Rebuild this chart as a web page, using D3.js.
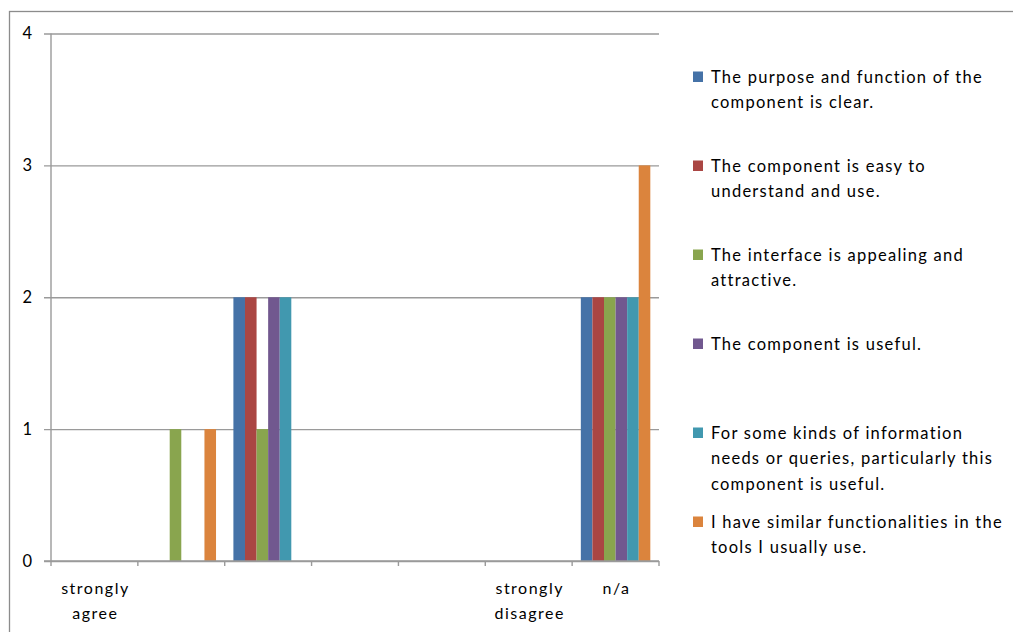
<!DOCTYPE html>
<html>
<head>
<meta charset="utf-8">
<script src="https://cdn.jsdelivr.net/npm/d3@7"></script>
<style>
  html, body { margin: 0; padding: 0; background: #fff; }
  svg { display: block; font-family: Lato, "Open Sans", sans-serif; }
</style>
</head>
<body>
<svg id="chart" width="1013" height="632"></svg>
<script>
// Response categories (x axis); "\n" marks a line break in the tick label
const categories = ["strongly\nagree", "", "", "", "", "strongly\ndisagree", "n/a"];

// Legend statements, one per series; "\n" marks a line break
const seriesNames = [
  "The purpose and function of the\ncomponent is clear.",
  "The component is easy to\nunderstand and use.",
  "The interface is appealing and\nattractive.",
  "The component is useful.",
  "For some kinds of information\nneeds or queries, particularly this\ncomponent is useful.",
  "I have similar functionalities in the\ntools I usually use."
];

// Counts per category for each statement
const purposeClear     = [0, 0, 2, 0, 0, 0, 2];
const easyToUse        = [0, 0, 2, 0, 0, 0, 2];
const appealing        = [0, 1, 1, 0, 0, 0, 2];
const useful           = [0, 0, 2, 0, 0, 0, 2];
const usefulForQueries = [0, 0, 2, 0, 0, 0, 2];
const similarTools     = [0, 1, 0, 0, 0, 0, 3];

const yTicks = [0, 1, 2, 3, 4];

const seriesValues = [purposeClear, easyToUse, appealing, useful, usefulForQueries, similarTools];
const colors = ["#4572A7", "#AA4643", "#89A54E", "#71588F", "#4198AF", "#DB843D"];

const svg = d3.select("#chart");

// outer chart frame
svg.append("rect")
  .attr("x", 9.5).attr("y", 11.5)
  .attr("width", 1010).attr("height", 630)
  .attr("fill", "none").attr("stroke", "#8c8c8c").attr("stroke-width", 1.3);

const plot = { left: 51, right: 659, top: 33.5, bottom: 561 };

const x0 = d3.scaleBand()
  .domain(d3.range(categories.length))
  .range([plot.left, plot.right])
  .padding(0);

const x1 = d3.scaleBand()
  .domain(d3.range(seriesValues.length))
  .range([0, x0.bandwidth()])
  .paddingInner(0)
  .paddingOuter(0.75);

const y = d3.scaleLinear()
  .domain([0, 4])
  .range([plot.bottom, plot.top]);

// horizontal gridlines with left tick marks
const yAxis = d3.axisLeft(y)
  .tickValues(yTicks)
  .tickSize(-(plot.right - plot.left))
  .tickSizeOuter(0)
  .tickPadding(0)
  .tickFormat(d3.format("d"));

const gy = svg.append("g")
  .attr("transform", `translate(${plot.left},0)`)
  .call(yAxis);
gy.select(".domain").remove();
gy.selectAll(".tick line")
  .attr("x1", -7)
  .attr("stroke", "#9a9a9a")
  .attr("stroke-width", 1.4);
gy.selectAll(".tick text")
  .attr("x", -19)
  .attr("font-size", 16.5)
  .attr("font-family", "Lato, sans-serif")
  .attr("fill", "#000");

// y axis line
svg.append("line")
  .attr("x1", plot.left).attr("x2", plot.left)
  .attr("y1", plot.top).attr("y2", plot.bottom)
  .attr("stroke", "#9a9a9a").attr("stroke-width", 1.4);

// bars
const groups = svg.append("g").selectAll("g")
  .data(categories.map((c, i) => i))
  .join("g")
  .attr("transform", i => `translate(${x0(i)},0)`);

groups.selectAll("rect")
  .data(i => seriesValues.map((vals, s) => ({ s, v: vals[i] })))
  .join("rect")
  .attr("x", d => x1(d.s))
  .attr("width", x1.bandwidth())
  .attr("y", d => y(d.v))
  .attr("height", d => y(0) - y(d.v))
  .attr("fill", d => colors[d.s]);

// x axis with ticks at category boundaries
const xAxisG = svg.append("g");
xAxisG.append("line")
  .attr("x1", plot.left - 7).attr("x2", plot.right)
  .attr("y1", plot.bottom).attr("y2", plot.bottom)
  .attr("stroke", "#9a9a9a").attr("stroke-width", 1.4);
const edges = d3.range(categories.length + 1).map(i =>
  i < categories.length ? x0(i) : x0(categories.length - 1) + x0.bandwidth());
xAxisG.selectAll("line.tick")
  .data(edges)
  .join("line")
  .attr("class", "tick")
  .attr("x1", d => d).attr("x2", d => d)
  .attr("y1", plot.bottom).attr("y2", plot.bottom + 5)
  .attr("stroke", "#9a9a9a").attr("stroke-width", 1.4);

xAxisG.selectAll("text")
  .data(categories.map((c, i) => ({ c, i })))
  .join("text")
  .attr("text-anchor", "middle")
  .attr("font-size", 16)
  .attr("letter-spacing", 1.5)
  .attr("fill", "#000")
  .each(function (d) {
    const t = d3.select(this);
    d.c.split("\n").forEach((line, k) => {
      if (!line) return;
      t.append("tspan")
        .attr("x", x0(d.i) + x0.bandwidth() / 2 + 1)
        .attr("y", 594 + k * 25)
        .text(line);
    });
  });

// legend
const legend = svg.append("g");
const legendTop = [77, 166, 255, 344, 433, 522];
seriesNames.forEach((name, s) => {
  const cy = legendTop[s];
  legend.append("rect")
    .attr("x", 693).attr("y", cy - 5.5)
    .attr("width", 10).attr("height", 10.5)
    .attr("fill", colors[s]);
  const t = legend.append("text")
    .attr("font-size", 16.5)
    .attr("letter-spacing", 1.25)
    .attr("fill", "#000");
  name.split("\n").forEach((line, k) => {
    t.append("tspan")
      .attr("x", 711)
      .attr("y", cy + 5.5 + k * 25.5)
      .text(line);
  });
});
</script>
</body>
</html>
